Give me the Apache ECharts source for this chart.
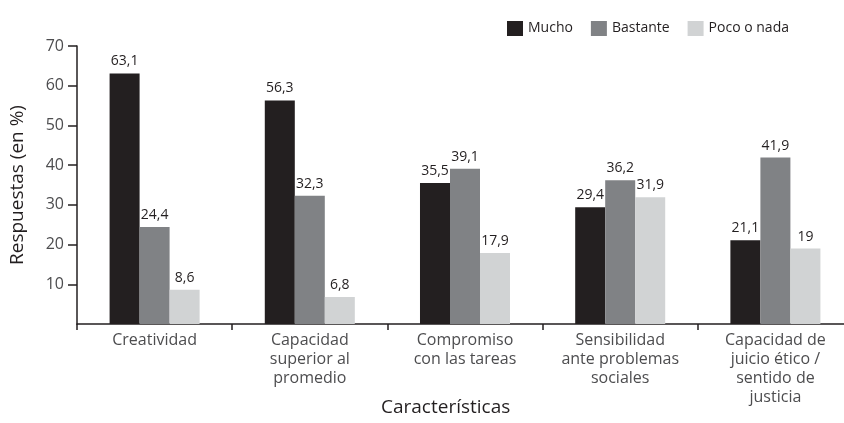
<!DOCTYPE html>
<html>
<head>
<meta charset="utf-8">
<script src="https://cdn.jsdelivr.net/npm/echarts@6/dist/echarts.min.js"></script>
<style>
  html, body { margin: 0; padding: 0; background: #fff; }
  #chart { width: 844px; height: 423px; }
</style>
</head>
<body>
<div id="chart"></div>
<script>
// categorias y valores
const categories = [
  'Creatividad',
  'Capacidad\nsuperior al\npromedio',
  'Compromiso\ncon las tareas',
  'Sensibilidad\nante problemas\nsociales',
  'Capacidad de\njuicio ético /\nsentido de\njusticia'
];
const mucho = [63.1, 56.3, 35.5, 29.4, 21.1];
const bastante = [24.4, 32.3, 39.1, 36.2, 41.9];
const pocoNada = [8.6, 6.8, 17.9, 31.9, 19];
const seriesNames = ['Mucho', 'Bastante', 'Poco o nada'];
const colors = ['#231f20', '#808285', '#d1d3d4'];

const font = '"Open Sans", "Noto Sans", sans-serif';
const chart = echarts.init(document.getElementById('chart'));

function barSeries(name, data, color) {
  return {
    name: name,
    type: 'bar',
    data: data,
    barGap: '0%',
    barCategoryGap: '42%',
    itemStyle: { color: color },
    label: {
      show: true,
      position: 'top',
      distance: 5,
      color: '#231f20',
      fontFamily: font,
      fontSize: 14,
      formatter: function (p) { return String(p.value).replace('.', ','); }
    }
  };
}

chart.setOption({
  animation: false,
  textStyle: { fontFamily: font },
  legend: {
    top: 16,
    left: 502,
    itemWidth: 16,
    itemHeight: 15,
    itemGap: 18,
    icon: 'rect',
    textStyle: { color: '#231f20', fontSize: 14, fontFamily: font },
    data: seriesNames
  },
  grid: {
    left: 77, top: 46, width: 776, height: 278,
    containLabel: false,
    outerBoundsMode: 'none'
  },
  xAxis: {
    type: 'category',
    data: categories,
    axisLine: { lineStyle: { color: '#231f20', width: 1.5 } },
    axisTick: { show: true, length: 6, lineStyle: { color: '#231f20', width: 1.5 } },
    axisLabel: {
      color: '#4d4d4f',
      fontSize: 16,
      lineHeight: 19,
      margin: 7,
      fontFamily: font
    }
  },
  yAxis: {
    type: 'value',
    min: 0,
    max: 70,
    interval: 10,
    name: 'Respuestas (en %)',
    nameLocation: 'middle',
    nameGap: 50,
    nameTextStyle: { color: '#231f20', fontSize: 19, fontFamily: font },
    axisLine: { show: true, lineStyle: { color: '#231f20', width: 1.5 } },
    axisTick: { show: true, length: 9, lineStyle: { color: '#231f20', width: 1.5 } },
    axisLabel: {
      color: '#4d4d4f',
      fontSize: 16,
      margin: 13,
      showMinLabel: false,
      fontFamily: font
    },
    splitLine: { show: false }
  },
  graphic: [{
    type: 'text',
    left: 381,
    top: 398,
    style: {
      text: 'Características',
      fill: '#231f20',
      font: '19px ' + font
    }
  }],
  series: [
    barSeries(seriesNames[0], mucho, colors[0]),
    barSeries(seriesNames[1], bastante, colors[1]),
    barSeries(seriesNames[2], pocoNada, colors[2])
  ]
});
</script>
</body>
</html>
